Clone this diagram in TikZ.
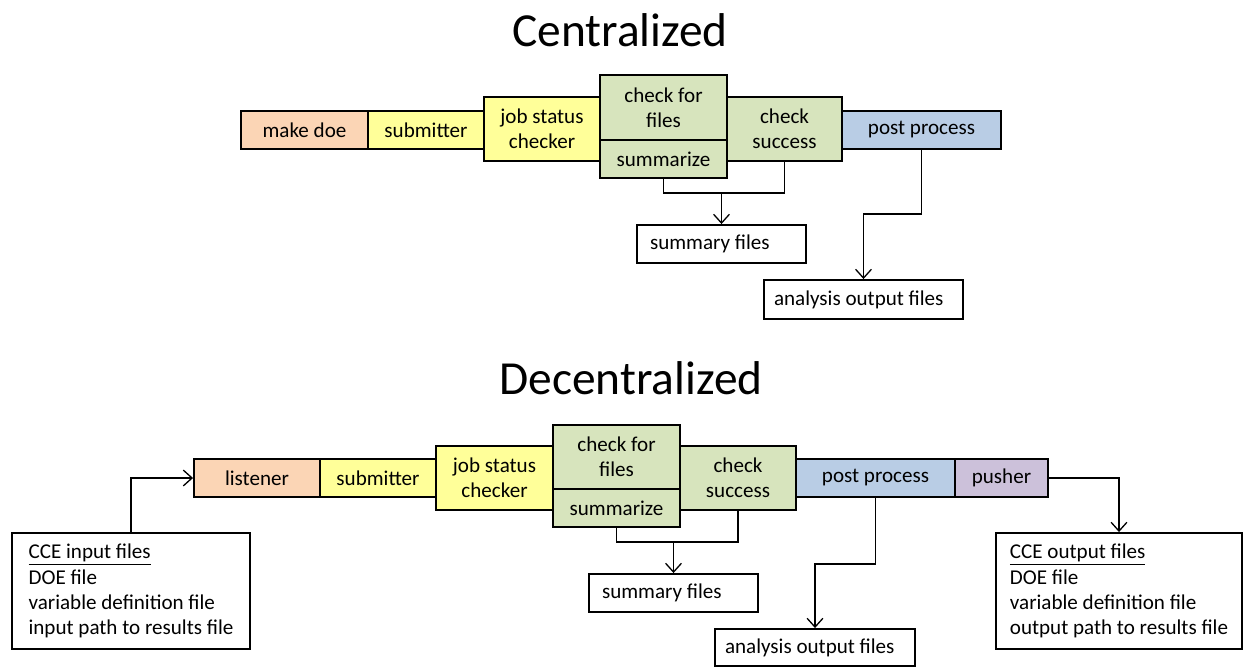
\documentclass[tikz,border=0pt]{standalone}
\usepackage{fontspec}
\setmainfont{Carlito}
\usetikzlibrary{arrows.meta}

\definecolor{peach}{RGB}{251,213,181}
\definecolor{paleyellow}{RGB}{255,255,153}
\definecolor{palegreen}{RGB}{215,228,189}
\definecolor{paleblue}{RGB}{185,205,229}
\definecolor{palepurple}{RGB}{204,193,218}

\begin{document}
\begin{tikzpicture}[x=0.02cm, y=-0.02cm,
    stage/.style={draw, line width=1.1pt, inner sep=0pt, align=center, minimum height=0.76cm, font=\fontsize{12}{14.3}\selectfont},
    tall/.style={stage, minimum height=1.28cm},
    filebox/.style={draw, line width=1.1pt, fill=white, inner xsep=0.26cm, inner ysep=0pt, align=flush left, minimum height=0.76cm, font=\fontsize{12}{14.3}\selectfont},
    link/.style={line width=0.75pt},
    arrow/.style={link, -{Straight Barb[length=5pt, width=9pt]}},
    title/.style={font=\fontsize{27}{32}\selectfont}]

        \useasboundingbox (0,0) rectangle (1248,667);

        % Centralized
        \node [title] (titleTop) at (620,30) {Centralized};

        \foreach \name/\mitte/\breite/\farbe/\txt in {makedoe/304.5/2.54/peach/make doe, submitterTop/426/2.32/paleyellow/submitter, postTop/921.5/3.18/paleblue/post process}
            \node [stage, fill=\farbe, minimum width=\breite cm] (\name) at (\mitte,130) {\txt};
        \node [tall, fill=paleyellow, minimum width=2.32cm] (jobTop) at (542,129) {job status\\checker};
        \node [tall, fill=palegreen, minimum width=2.54cm, minimum height=1.3cm] (checkfilesTop) at (663.5,107.5) {check for\\files};
        \node [stage, fill=palegreen, minimum width=2.54cm] (summarizeTop) at (663.5,159) {summarize};
        \node [tall, fill=palegreen, minimum width=2.30cm] (successTop) at (784.5,129) {check\\success};

        \node [filebox, text width=2.86cm] (summaryTop) at (721.5,244) {summary files};
        \node [filebox, inner xsep=0.2cm, text width=3.58cm, minimum height=0.78cm] (analysisTop) at (863.5,299.5) {analysis output files};

        \coordinate (joinTop) at (721.5,193);
        \draw [link] (summarizeTop.south) |- (joinTop) -| (successTop.south);
        \draw [arrow] (joinTop) -- (summaryTop.north);
        \draw [arrow] (postTop.south) -- ++(0,64) -| (analysisTop.north);

        % Decentralized
        \node [title] (titleBottom) at (631,378) {Decentralized};

        \foreach \name/\mitte/\breite/\farbe/\txt in {listener/257/2.52/peach/listener, submitterBottom/378/2.32/paleyellow/submitter, postBottom/875.5/3.18/paleblue/post process, pusher/1001.5/1.86/palepurple/pusher}
            \node [stage, fill=\farbe, minimum width=\breite cm] (\name) at (\mitte,478) {\txt};
        \node [tall, fill=paleyellow, minimum width=2.34cm] (jobBottom) at (494.5,478) {job status\\checker};
        \node [tall, fill=palegreen, minimum width=2.54cm] (checkfilesBottom) at (616.5,457) {check for\\files};
        \node [stage, fill=palegreen, minimum width=2.54cm] (summarizeBottom) at (616.5,508) {summarize};
        \node [tall, fill=palegreen, minimum width=2.32cm] (successBottom) at (738,478) {check\\success};

        % lists: no text width, block is centred in the box
        \node [filebox, inner xsep=0pt, minimum width=4.76cm, minimum height=2.32cm] (inputs) at (131,591) {\underline{CCE input files}\\DOE file\\variable definition file\\input path to results file};
        \node [filebox, inner xsep=0pt, minimum width=4.92cm, minimum height=2.32cm] (outputs) at (1119,591) {\underline{CCE output files}\\DOE file\\variable definition file\\output path to results file};
        \node [filebox, text width=2.86cm] (summaryBottom) at (673.5,593) {summary files};
        \node [filebox, inner xsep=0.2cm, text width=3.6cm, minimum height=0.74cm] (analysisBottom) at (815,647.5) {analysis output files};

        \draw [arrow] (inputs.north) |- (listener.west);
        \coordinate (joinBottom) at (673.5,542);
        \draw [link] (summarizeBottom.south) |- (joinBottom) -| (successBottom.south);
        \draw [arrow] (joinBottom) -- (summaryBottom.north);
        \draw [arrow] (postBottom.south) -- ++(0,66) -| (analysisBottom.north);
        \draw [arrow] (pusher.east) -| (outputs.north);

\end{tikzpicture}
\end{document}
